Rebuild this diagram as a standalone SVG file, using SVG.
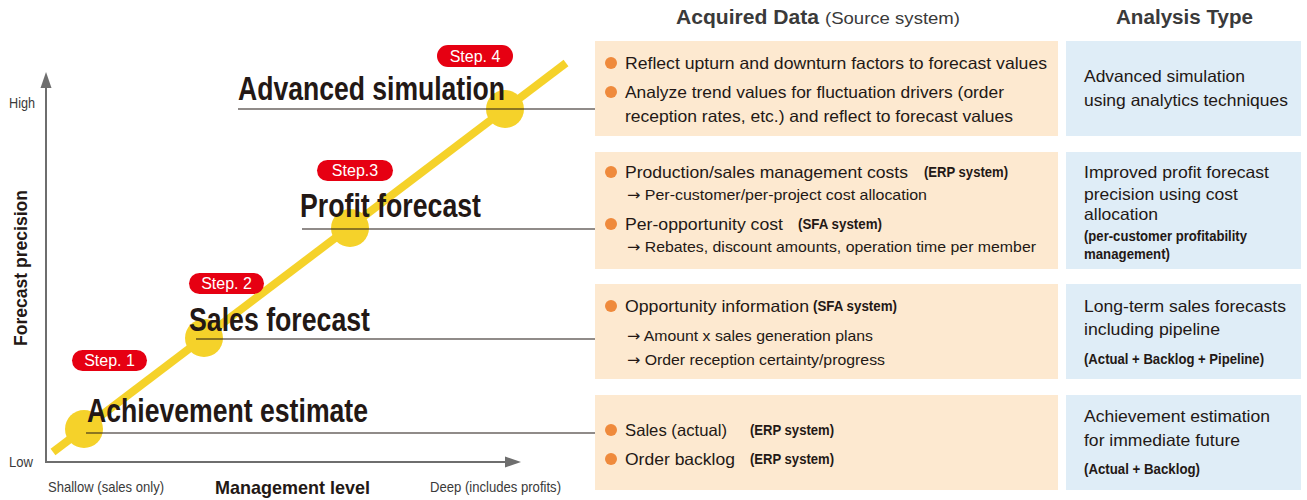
<svg xmlns="http://www.w3.org/2000/svg" width="1307" height="500" viewBox="0 0 1307 500">
  <defs>
    <style>
      text { font-family: "Liberation Sans", Arial, sans-serif; fill: #231815; }
      .hdr { font-size: 20px; font-weight: bold; fill: #3a3a3a; }
      .hdr-sub { font-size: 17px; fill: #3a3a3a; }
      .axis-lbl { font-size: 15px; fill: #3a3a3a; }
      .axis-ttl { font-size: 19px; font-weight: bold; }
      .title { font-size: 33px; font-weight: bold; }
      .badge-box { fill: #e60012; }
      .badge-txt { font-size: 16px; fill: #ffffff; text-anchor: middle; }
      .data-box { fill: #fde9d0; }
      .type-box { fill: #dfedf7; }
      .item { font-size: 16.5px; }
      .sub { font-size: 15px; }
      .arr { font-family: "DejaVu Sans", sans-serif; }
      .src { font-size: 14px; font-weight: bold; }
      .note { font-size: 14px; font-weight: bold; }
      .bullet { fill: #ef8a3c; }
      .lead { stroke: #231815; stroke-width: 1.2; }
      .axis { stroke: #6e6e6e; stroke-width: 2; fill: none; }
    </style>
  </defs>

  <!-- column headers -->
  <g id="headers">
    <text class="hdr" x="676" y="24" textLength="143" lengthAdjust="spacingAndGlyphs">Acquired Data</text>
    <text class="hdr-sub" x="825" y="24" textLength="135" lengthAdjust="spacingAndGlyphs">(Source system)</text>
    <text class="hdr" x="1116" y="24" textLength="137" lengthAdjust="spacingAndGlyphs">Analysis Type</text>
  </g>

  <!-- axes -->
  <g id="axes">
    <path class="axis" d="M46,463 L46,80"/>
    <path d="M46,72 L40.5,88 L51.5,88 z" fill="#6e6e6e"/>
    <path class="axis" d="M45,462 L510,462"/>
    <path d="M521,462 L505,456.5 L505,467.5 z" fill="#6e6e6e"/>
    <text class="axis-lbl" x="9" y="108" textLength="26" lengthAdjust="spacingAndGlyphs">High</text>
    <text class="axis-lbl" x="9" y="467" textLength="24" lengthAdjust="spacingAndGlyphs">Low</text>
    <text class="axis-ttl" transform="translate(27,268) rotate(-90)" text-anchor="middle" textLength="156" lengthAdjust="spacingAndGlyphs">Forecast precision</text>
    <text class="axis-lbl" x="48" y="492" textLength="116" lengthAdjust="spacingAndGlyphs">Shallow (sales only)</text>
    <text class="axis-ttl" x="215" y="494" textLength="155" lengthAdjust="spacingAndGlyphs">Management level</text>
    <text class="axis-lbl" x="430" y="492" textLength="131" lengthAdjust="spacingAndGlyphs">Deep (includes profits)</text>
  </g>

  <!-- progression line with step points -->
  <g id="progression">
    <line x1="53" y1="452" x2="566" y2="63" stroke="#f5d22a" stroke-width="8"/>
    <circle cx="84" cy="429" r="19" fill="#f5d22a"/>
    <circle cx="204" cy="338" r="19" fill="#f5d22a"/>
    <circle cx="350" cy="228" r="19" fill="#f5d22a"/>
    <circle cx="505" cy="109" r="19" fill="#f5d22a"/>
  </g>

  <!-- leader lines from each step to its data box -->
  <g id="connectors">
    <line class="lead" x1="238" y1="109" x2="595" y2="109"/>
    <line class="lead" x1="302" y1="229" x2="595" y2="229"/>
    <line class="lead" x1="196" y1="339" x2="595" y2="339" stroke="#6a6a6a"/>
    <line class="lead" x1="86" y1="433" x2="595" y2="433"/>
  </g>

  <!-- step 4 -->
  <g id="step4">
    <rect class="badge-box" x="437" y="45" width="76" height="22" rx="11"/>
    <text class="badge-txt" x="475" y="62">Step. 4</text>
    <text class="title" x="238" y="100" textLength="267" lengthAdjust="spacingAndGlyphs">Advanced simulation</text>
  </g>

  <!-- step 3 -->
  <g id="step3">
    <rect class="badge-box" x="317" y="160" width="76" height="21" rx="10.5"/>
    <text class="badge-txt" x="355" y="176">Step.3</text>
    <text class="title" x="300" y="217" textLength="181" lengthAdjust="spacingAndGlyphs">Profit forecast</text>
  </g>

  <!-- step 2 -->
  <g id="step2">
    <rect class="badge-box" x="189" y="273" width="75" height="21" rx="10.5"/>
    <text class="badge-txt" x="226.5" y="289">Step. 2</text>
    <text class="title" x="189" y="331" textLength="181" lengthAdjust="spacingAndGlyphs">Sales forecast</text>
  </g>

  <!-- step 1 -->
  <g id="step1">
    <rect class="badge-box" x="72" y="350" width="75" height="21" rx="10.5"/>
    <text class="badge-txt" x="109.5" y="366">Step. 1</text>
    <text class="title" x="87" y="422" textLength="281" lengthAdjust="spacingAndGlyphs">Achievement estimate</text>
  </g>

  <!-- acquired data: advanced simulation -->
  <g id="data4">
    <rect class="data-box" x="595" y="41" width="463" height="95"/>
    <circle class="bullet" cx="611" cy="63" r="6"/>
    <text class="item" x="625" y="69" textLength="422" lengthAdjust="spacingAndGlyphs">Reflect upturn and downturn factors to forecast values</text>
    <circle class="bullet" cx="611" cy="92" r="6"/>
    <text class="item" x="625" y="98" textLength="379" lengthAdjust="spacingAndGlyphs">Analyze trend values for fluctuation drivers (order</text>
    <text class="item" x="625" y="122" textLength="388" lengthAdjust="spacingAndGlyphs">reception rates, etc.) and reflect to forecast values</text>
  </g>

  <!-- acquired data: profit forecast -->
  <g id="data3">
    <rect class="data-box" x="595" y="152" width="463" height="117"/>
    <circle class="bullet" cx="611" cy="172" r="6"/>
    <text class="item" x="625" y="178" textLength="283" lengthAdjust="spacingAndGlyphs">Production/sales management costs</text>
    <text class="src" x="924" y="177" textLength="84" lengthAdjust="spacingAndGlyphs">(ERP system)</text>
    <text class="sub" x="627" y="200" textLength="300" lengthAdjust="spacingAndGlyphs"><tspan class="arr">→</tspan> Per-customer/per-project cost allocation</text>
    <circle class="bullet" cx="611" cy="224" r="6"/>
    <text class="item" x="625" y="230" textLength="158" lengthAdjust="spacingAndGlyphs">Per-opportunity cost</text>
    <text class="src" x="798" y="229" textLength="84" lengthAdjust="spacingAndGlyphs">(SFA system)</text>
    <text class="sub" x="627" y="252" textLength="409" lengthAdjust="spacingAndGlyphs"><tspan class="arr">→</tspan> Rebates, discount amounts, operation time per member</text>
  </g>

  <!-- acquired data: sales forecast -->
  <g id="data2">
    <rect class="data-box" x="595" y="284" width="463" height="95"/>
    <circle class="bullet" cx="611" cy="306" r="6"/>
    <text class="item" x="625" y="312" textLength="184" lengthAdjust="spacingAndGlyphs">Opportunity information</text>
    <text class="src" x="813" y="311" textLength="84" lengthAdjust="spacingAndGlyphs">(SFA system)</text>
    <text class="sub" x="627" y="341" textLength="246" lengthAdjust="spacingAndGlyphs"><tspan class="arr">→</tspan> Amount x sales generation plans</text>
    <text class="sub" x="627" y="365" textLength="258" lengthAdjust="spacingAndGlyphs"><tspan class="arr">→</tspan> Order reception certainty/progress</text>
  </g>

  <!-- acquired data: achievement estimate -->
  <g id="data1">
    <rect class="data-box" x="595" y="395" width="463" height="95"/>
    <circle class="bullet" cx="611" cy="430" r="6"/>
    <text class="item" x="625" y="436" textLength="102" lengthAdjust="spacingAndGlyphs">Sales (actual)</text>
    <text class="src" x="750" y="435" textLength="84" lengthAdjust="spacingAndGlyphs">(ERP system)</text>
    <circle class="bullet" cx="611" cy="459" r="6"/>
    <text class="item" x="625" y="465" textLength="110" lengthAdjust="spacingAndGlyphs">Order backlog</text>
    <text class="src" x="750" y="464" textLength="84" lengthAdjust="spacingAndGlyphs">(ERP system)</text>
  </g>

  <!-- analysis type column -->
  <g id="type4">
    <rect class="type-box" x="1066" y="41" width="235" height="95"/>
    <text class="item" x="1084" y="82" textLength="161" lengthAdjust="spacingAndGlyphs">Advanced simulation</text>
    <text class="item" x="1084" y="106" textLength="204" lengthAdjust="spacingAndGlyphs">using analytics techniques</text>
  </g>

  <g id="type3">
    <rect class="type-box" x="1066" y="152" width="235" height="117"/>
    <text class="item" x="1084" y="178" textLength="185" lengthAdjust="spacingAndGlyphs">Improved profit forecast</text>
    <text class="item" x="1084" y="200" textLength="154" lengthAdjust="spacingAndGlyphs">precision using cost</text>
    <text class="item" x="1084" y="220" textLength="74" lengthAdjust="spacingAndGlyphs">allocation</text>
    <text class="note" x="1084" y="241" textLength="163" lengthAdjust="spacingAndGlyphs">(per-customer profitability</text>
    <text class="note" x="1084" y="259" textLength="86" lengthAdjust="spacingAndGlyphs">management)</text>
  </g>

  <g id="type2">
    <rect class="type-box" x="1066" y="284" width="235" height="95"/>
    <text class="item" x="1084" y="312" textLength="202" lengthAdjust="spacingAndGlyphs">Long-term sales forecasts</text>
    <text class="item" x="1084" y="335" textLength="136" lengthAdjust="spacingAndGlyphs">including pipeline</text>
    <text class="note" x="1084" y="364" textLength="180" lengthAdjust="spacingAndGlyphs">(Actual + Backlog + Pipeline)</text>
  </g>

  <g id="type1">
    <rect class="type-box" x="1066" y="395" width="235" height="95"/>
    <text class="item" x="1084" y="422" textLength="186" lengthAdjust="spacingAndGlyphs">Achievement estimation</text>
    <text class="item" x="1084" y="446" textLength="156" lengthAdjust="spacingAndGlyphs">for immediate future</text>
    <text class="note" x="1084" y="474" textLength="116" lengthAdjust="spacingAndGlyphs">(Actual + Backlog)</text>
  </g>
</svg>
